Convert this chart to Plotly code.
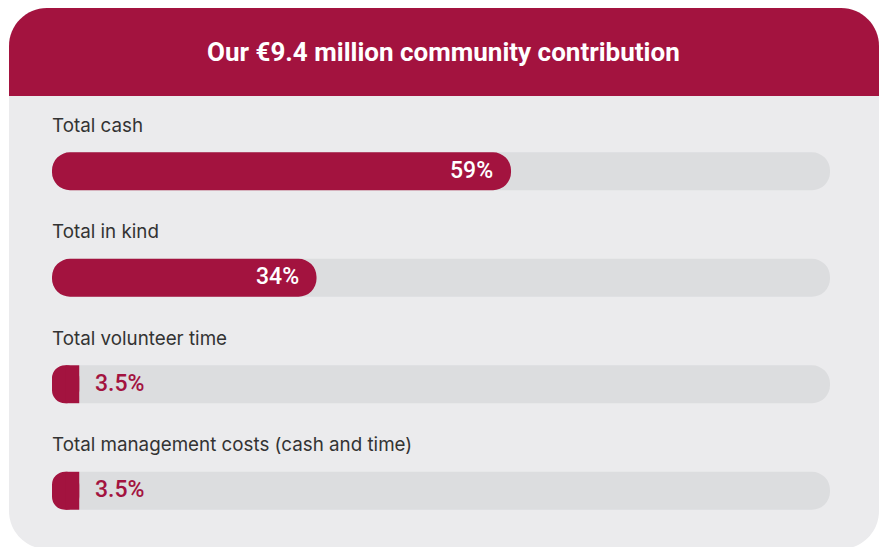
import plotly.graph_objects as go

# ---- data ----
title_text = "Our €9.4 million community contribution"
categories = ["Total cash", "Total in kind", "Total volunteer time",
              "Total management costs (cash and time)"]
shares = [59, 34, 3.5, 3.5]
share_labels = ["59%", "34%", "3.5%", "3.5%"]
track_total = 100

# ---- style ----
W, H = 881, 547
ML, MR, MT, MB = 52, 51, 118, 3
PW, PH = W - ML - MR, H - MT - MB
CRIMSON = "#A3133F"
BODY = "#EBEBED"
TRACK = "#DCDDDF"
TEXT = "#333333"
BAR_W = 0.356
RADIUS_PX = 19
COND = "Roboto, 'Liberation Sans', sans-serif"


def px_x(p):
    return (p - ML) / PW


def px_y(p):
    return 1 - (p - MT) / PH


def rounded_path(x0, y0, x1, y1, r, top=True, bottom=True):
    X, Y = px_x, px_y
    k = 0.4477  # 1 - 0.5523 (cubic circle approximation)
    parts = []
    if top:
        parts.append(f"M {X(x0)},{Y(y0 + r)} C {X(x0)},{Y(y0 + r * k)} {X(x0 + r * k)},{Y(y0)} {X(x0 + r)},{Y(y0)}")
        parts.append(f"L {X(x1 - r)},{Y(y0)} C {X(x1 - r * k)},{Y(y0)} {X(x1)},{Y(y0 + r * k)} {X(x1)},{Y(y0 + r)}")
    else:
        parts.append(f"M {X(x0)},{Y(y0)} L {X(x1)},{Y(y0)}")
    if bottom:
        parts.append(f"L {X(x1)},{Y(y1 - r)} C {X(x1)},{Y(y1 - r * k)} {X(x1 - r * k)},{Y(y1)} {X(x1 - r)},{Y(y1)}")
        parts.append(f"L {X(x0 + r)},{Y(y1)} C {X(x0 + r * k)},{Y(y1)} {X(x0)},{Y(y1 - r * k)} {X(x0)},{Y(y1 - r)}")
    else:
        parts.append(f"L {X(x1)},{Y(y1)} L {X(x0)},{Y(y1)}")
    parts.append("Z")
    return " ".join(parts)


fig = go.Figure()
ys = list(range(len(categories)))

# tracks: floating bars (base given) get both ends rounded
fig.add_trace(go.Bar(
    y=ys, x=[track_total] * len(ys), base=[0] * len(ys), orientation="h",
    width=BAR_W, marker=dict(color=TRACK, cornerradius="50%", line_width=0),
    hoverinfo="skip", showlegend=False))

# filled bars
fig.add_trace(go.Bar(
    y=ys, x=shares, base=[0] * len(ys), orientation="h",
    width=BAR_W, marker=dict(color=CRIMSON, cornerradius="50%", line_width=0),
    hoverinfo="skip", showlegend=False))

# short bars: square off the right end
short = [i for i, v in enumerate(shares) if v / track_total * PW < 2 * RADIUS_PX]
if short:
    fig.add_trace(go.Bar(
        y=short, x=[shares[i] / 2 for i in short], base=[shares[i] / 2 for i in short],
        orientation="h", width=BAR_W,
        marker=dict(color=CRIMSON, cornerradius=0, line_width=0),
        hoverinfo="skip", showlegend=False))

annotations = []
for i, (cat, v, lab) in enumerate(zip(categories, shares, share_labels)):
    annotations.append(dict(
        x=0, y=i - 0.43, xref="x", yref="y", text=cat, showarrow=False,
        xanchor="left", yanchor="middle", xshift=-2,
        font=dict(family="Inter, 'Open Sans', sans-serif", size=18.8, color=TEXT)))
    inside = v / track_total * PW > 60
    annotations.append(dict(
        x=v, y=i, xref="x", yref="y", text=lab, showarrow=False,
        xanchor="right" if inside else "left", yanchor="middle",
        xshift=-16 if inside else 14, yshift=1,
        font=dict(family=COND, size=23, weight=500,
                  color="white" if inside else CRIMSON)))

annotations.append(dict(
    x=px_x(443), y=px_y(52), xref="paper", yref="paper", text=title_text,
    showarrow=False, xanchor="center", yanchor="middle",
    font=dict(family=COND, size=26, weight=700, color="white")))

shapes = [
    dict(type="path", xref="paper", yref="paper", layer="below",
         path=rounded_path(9, 8, 879, 549, 38), fillcolor=BODY, line_width=0),
    dict(type="path", xref="paper", yref="paper", layer="below",
         path=rounded_path(9, 8, 879, 96, 38, top=True, bottom=False),
         fillcolor=CRIMSON, line_width=0),
]

fig.update_layout(
    width=W, height=H,
    margin=dict(l=ML, r=MR, t=MT, b=MB),
    paper_bgcolor="white", plot_bgcolor="rgba(0,0,0,0)",
    barmode="overlay",
    xaxis=dict(range=[0, track_total], visible=False, fixedrange=True),
    yaxis=dict(range=[len(categories) - 0.5, -0.5], visible=False, fixedrange=True),
    annotations=annotations, shapes=shapes,
    showlegend=False,
)

fig.write_html("out.html", config={"displayModeBar": False},
               post_script="document.body.style.margin='0';document.body.style.overflow='hidden';")
